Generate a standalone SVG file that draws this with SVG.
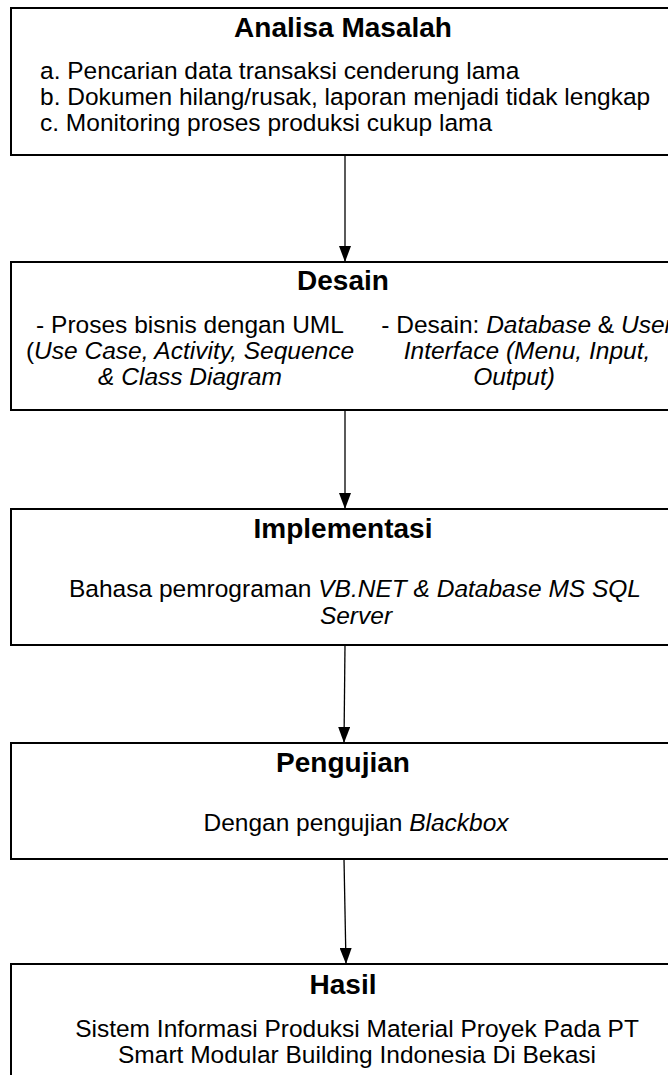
<svg xmlns="http://www.w3.org/2000/svg" width="668" height="1075" viewBox="0 0 668 1075">
<defs>
<marker id="ah" markerWidth="16" markerHeight="12" refX="16" refY="6" orient="auto" markerUnits="userSpaceOnUse" viewBox="0 0 16 12">
<path d="M0,0 L16,6 L0,12 Z" fill="#000"/>
</marker>
<style>
.box{fill:#fff;stroke:#000;stroke-width:2}
.t{font-family:"Liberation Sans",Arial,sans-serif;font-size:28px;font-weight:bold;text-anchor:middle;fill:#000}
.b{font-family:"Liberation Sans",Arial,sans-serif;font-size:24.5px;fill:#000}
.c{text-anchor:middle}
.i{font-style:italic}
.con{stroke:#000;stroke-width:1.3;fill:none}
</style>
</defs>
<rect width="668" height="1075" fill="#fff"/>
<g id="connectors">
<line class="con" x1="345" y1="155" x2="345" y2="262" marker-end="url(#ah)"/>
<line class="con" x1="345" y1="410" x2="345" y2="509" marker-end="url(#ah)"/>
<line class="con" x1="345" y1="645" x2="344" y2="743" marker-end="url(#ah)"/>
<line class="con" x1="344" y1="859" x2="346" y2="964" marker-end="url(#ah)"/>
</g>
<g id="analisa">
<rect class="box" x="11" y="8" width="680" height="147"/>
<text class="t" x="343" y="37">Analisa Masalah</text>
<text class="b" x="40" y="79">a. Pencarian data transaksi cenderung lama</text>
<text class="b" x="40" y="105">b. Dokumen hilang/rusak, laporan menjadi tidak lengkap</text>
<text class="b" x="40" y="131">c. Monitoring proses produksi cukup lama</text>
</g>
<g id="desain">
<rect class="box" x="11" y="262" width="680" height="148"/>
<text class="t" x="343" y="290">Desain</text>
<text class="b c" x="190" y="333">- Proses bisnis dengan UML</text>
<text class="b c" x="190" y="359">(<tspan class="i">Use Case, Activity, Sequence</tspan></text>
<text class="b c i" x="190" y="385">&amp; Class Diagram</text>
<text class="b c" x="527" y="333">- Desain: <tspan class="i">Database</tspan> &amp; <tspan class="i">User</tspan></text>
<text class="b c i" x="527" y="359">Interface (Menu, Input,</text>
<text class="b c i" x="514" y="385">Output)</text>
</g>
<g id="implementasi">
<rect class="box" x="11" y="509" width="680" height="136"/>
<text class="t" x="343" y="538">Implementasi</text>
<text class="b c" x="355" y="597">Bahasa pemrograman <tspan class="i">VB.NET &amp; Database MS SQL</tspan></text>
<text class="b c i" x="356" y="624">Server</text>
</g>
<g id="pengujian">
<rect class="box" x="11" y="743" width="680" height="116"/>
<text class="t" x="343" y="772">Pengujian</text>
<text class="b c" x="356" y="831">Dengan pengujian <tspan class="i">Blackbox</tspan></text>
</g>
<g id="hasil">
<rect class="box" x="11" y="964" width="680" height="130"/>
<text class="t" x="343" y="994">Hasil</text>
<text class="b c" x="357" y="1037">Sistem Informasi Produksi Material Proyek Pada PT</text>
<text class="b c" x="357" y="1063">Smart Modular Building Indonesia Di Bekasi</text>
</g>
</svg>
